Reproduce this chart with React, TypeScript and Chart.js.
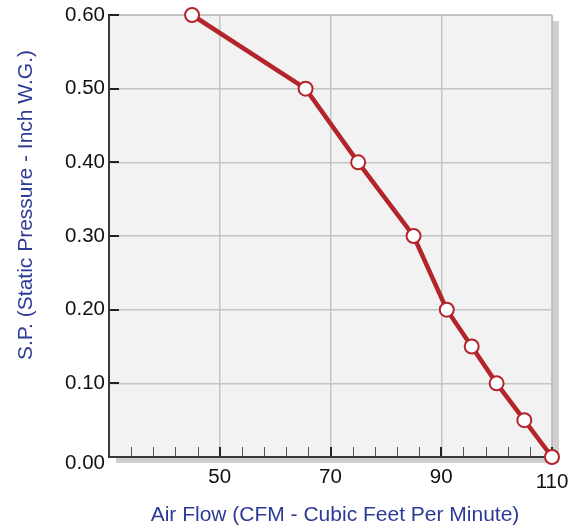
import React, { useEffect, useRef } from "react";
import { Chart, registerables } from "chart.js";

Chart.register(...registerables);

const airFlow = [45, 65.5, 75, 85, 91, 95.5, 100, 105, 110];
const staticPressure = [0.6, 0.5, 0.4, 0.3, 0.2, 0.15, 0.1, 0.05, 0.0];
const xTickValues = [30, 34, 38, 42, 46, 50, 54, 58, 62, 66, 70, 74, 78, 82, 86, 90, 94, 98, 102, 106, 110];
const xMajorLabels = [50, 70, 90, 110];
const yTickValues = [0, 0.1, 0.2, 0.3, 0.4, 0.5, 0.6];
const xTitle = "Air Flow (CFM - Cubic Feet Per Minute)";
const yTitle = "S.P. (Static Pressure - Inch W.G.)";

const TICK_FONT = "20.5px 'Liberation Sans', Arial, sans-serif";
const TITLE_FONT = "21px 'Liberation Sans', Arial, sans-serif";
const TITLE_COLOR = "#2e3b95";
const LINE_COLOR = "#b3242b";

const deco = {
  id: "deco",
  beforeDraw(chart: any) {
    const { ctx, chartArea } = chart;
    const { left, top, right, bottom } = chartArea;
    ctx.save();
    ctx.fillStyle = "#cfcfcf";
    ctx.fillRect(left + 7, top + 6, right - left, bottom - top);
    ctx.fillStyle = "#f2f2f2";
    ctx.fillRect(left, top, right - left, bottom - top);
    ctx.restore();
  },
  beforeDatasetsDraw(chart: any) {
    const { ctx, chartArea, scales } = chart;
    const { left, top, right, bottom } = chartArea;
    const xs = scales.x;
    const ys = scales.y;
    ctx.save();
    ctx.strokeStyle = "#bdbdbd";
    ctx.lineWidth = 1;
    ctx.beginPath();
    ctx.moveTo(left, top + 0.5);
    ctx.lineTo(right + 0.5, top + 0.5);
    ctx.lineTo(right + 0.5, bottom);
    ctx.stroke();
    xTickValues.forEach((v) => {
      const px = Math.round(xs.getPixelForValue(v));
      const major = xMajorLabels.includes(v);
      ctx.strokeStyle = major ? "#222" : "#555";
      ctx.lineWidth = major ? 2 : 1;
      const ox = major ? 0 : 0.5;
      ctx.beginPath();
      ctx.moveTo(px + ox, bottom);
      ctx.lineTo(px + ox, bottom - 10);
      ctx.stroke();
    });
    yTickValues.forEach((v) => {
      if (v === 0) return;
      const py = Math.round(ys.getPixelForValue(v));
      ctx.strokeStyle = "#222";
      ctx.lineWidth = 2;
      ctx.beginPath();
      ctx.moveTo(left - 1, py);
      ctx.lineTo(left + 10, py);
      ctx.stroke();
    });
    ctx.strokeStyle = "#3a3a3a";
    ctx.lineWidth = 2;
    ctx.beginPath();
    ctx.moveTo(left, top);
    ctx.lineTo(left, bottom);
    ctx.lineTo(right + 1, bottom);
    ctx.stroke();
    ctx.restore();
  },
  afterDraw(chart: any) {
    const { ctx, chartArea, scales } = chart;
    const { left, bottom } = chartArea;
    const xs = scales.x;
    const ys = scales.y;
    ctx.save();
    ctx.font = TICK_FONT;
    ctx.fillStyle = "#111";
    ctx.textBaseline = "middle";
    ctx.textAlign = "right";
    yTickValues.forEach((v) => {
      const py = ys.getPixelForValue(v) + (v === 0 ? 6 : 0);
      ctx.fillText(v.toFixed(2), left - 4, py);
    });
    ctx.textAlign = "center";
    xMajorLabels.forEach((v, i) => {
      const px = xs.getPixelForValue(v);
      const off = i === xMajorLabels.length - 1 ? 25 : 20;
      ctx.fillText(String(v), px, bottom + off);
    });
    ctx.font = TITLE_FONT;
    ctx.fillStyle = TITLE_COLOR;
    ctx.fillText(xTitle, 335, 515);
    ctx.translate(26, 205);
    ctx.rotate(-Math.PI / 2);
    ctx.fillText(yTitle, 0, 0);
    ctx.restore();
  },
};

export default function App() {
  const ref = useRef<HTMLCanvasElement | null>(null);
  useEffect(() => {
    if (!ref.current) return;
    const chart = new Chart(ref.current, {
      type: "line",
      data: {
        datasets: [
          {
            data: airFlow.map((x, i) => ({ x, y: staticPressure[i] })),
            borderColor: LINE_COLOR,
            borderWidth: 4.5,
            pointRadius: 7,
            pointBorderWidth: 2,
            pointBackgroundColor: "#ffffff",
            pointBorderColor: LINE_COLOR,
            tension: 0,
            clip: false as any,
          },
        ],
      },
      options: {
        animation: false,
        responsive: true,
        maintainAspectRatio: false,
        layout: { padding: { left: 109, top: 15, right: 28, bottom: 70 } },
        plugins: { legend: { display: false }, tooltip: { enabled: false } },
        scales: {
          x: {
            type: "linear",
            min: 30,
            max: 110,
            afterBuildTicks: (axis: any) => {
              axis.ticks = xTickValues.map((value) => ({ value }));
            },
            ticks: { display: false },
            border: { display: false },
            grid: {
              drawTicks: false,
              color: (c: any) =>
                c.tick && xMajorLabels.includes(c.tick.value) ? "#c4c4c4" : "rgba(0,0,0,0)",
              lineWidth: 1.5,
            },
          },
          y: {
            type: "linear",
            min: 0,
            max: 0.6,
            afterBuildTicks: (axis: any) => {
              axis.ticks = yTickValues.map((value) => ({ value }));
            },
            ticks: { display: false },
            border: { display: false },
            grid: { drawTicks: false, color: "#c4c4c4", lineWidth: 1.5 },
          },
        },
      },
      plugins: [deco],
    });
    return () => chart.destroy();
  }, []);
  return (
    <div style={{ position: "absolute", left: 0, top: 0, width: 580, height: 527 }}>
      <canvas ref={ref} />
    </div>
  );
}
